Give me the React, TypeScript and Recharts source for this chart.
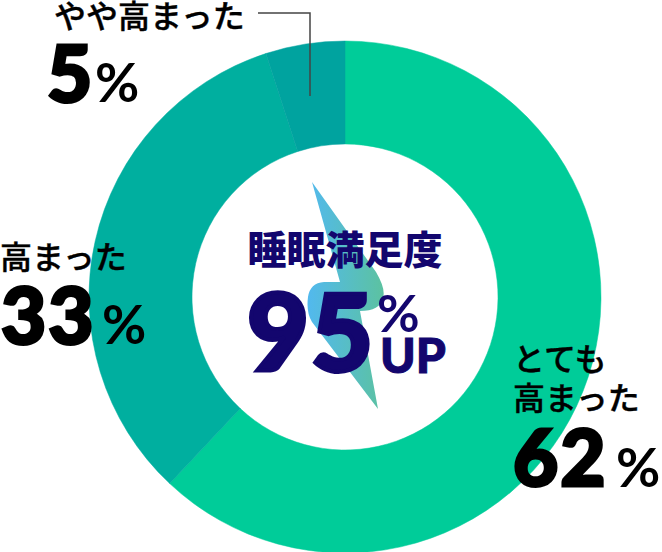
import React from 'react';
import { PieChart, Pie, Cell } from 'recharts';

const labels = ['とても高まった', '高まった', 'やや高まった'];
const values = [62, 33, 5];
const colors = ['#00cc99', '#00af9f', '#00a39f'];

const data = labels.map((name, i) => ({ name, value: values[i] }));

const navy = '#13066e';
const ink = '#000';
const font = '"Noto Sans CJK JP", "Noto Sans", sans-serif';
const numFont = 'Lato, "Noto Sans", sans-serif';

const Label = ({ x, y, children }: { x: number; y: number; children: React.ReactNode }) => (
  <text x={x} y={y} fontFamily={font} fontWeight={500} fontSize={32} fill={ink} stroke={ink} strokeWidth={0.4}>
    {children}
  </text>
);

const BigNum = ({ x, y, children }: { x: number; y: number; children: React.ReactNode }) => (
  <text x={x} y={y} fontFamily={numFont} fontWeight={900} fontSize={78} fill={ink} stroke={ink} strokeWidth={3} letterSpacing={2}>
    {children}
  </text>
);

const Pct = ({ x, y }: { x: number; y: number }) => (
  <text x={x} y={y} fontFamily={numFont} fontWeight={700} fontSize={54} fill={ink}>%</text>
);

const Overlay = () => (
  <svg width={662} height={552} style={{ position: 'absolute', left: 0, top: 0 }}>
    <defs>
      <linearGradient id="bolt" gradientUnits="userSpaceOnUse" x1="308" y1="0" x2="385" y2="0">
        <stop offset="0" stopColor="#52b9ee" />
        <stop offset="1" stopColor="#5cc29f" />
      </linearGradient>
    </defs>
    <path
      d="M312 182 L376 272 Q386 289 383 298 Q380 311 360 311 L378 409 L312 322 Q306 312 308 297 Q310 283 324 282 L340 282 Z"
      fill="url(#bolt)"
    />

    <text x={345} y={264} textAnchor="middle" fontFamily={font} fontWeight={900} fontSize={39} fill={navy}>睡眠満足度</text>
    <text x={247} y={371} fontFamily={numFont} fontWeight={900} fontSize={107} fill={navy} stroke={navy} strokeWidth={4} letterSpacing={2}>95</text>
    <text x={377} y={332} fontFamily={numFont} fontWeight={700} fontSize={52} fill={navy}>%</text>
    <text x={380} y={373} fontFamily={numFont} fontWeight={900} fontSize={48} fill={navy} stroke={navy} strokeWidth={1}>UP</text>

    <Label x={54} y={28}>やや高まった</Label>
    <BigNum x={47} y={102}>5</BigNum>
    <Pct x={95} y={102} />

    <Label x={0} y={269}>高まった</Label>
    <BigNum x={1} y={344}>33</BigNum>
    <Pct x={102} y={344} />

    <Label x={513} y={371}>とても</Label>
    <Label x={513} y={410}>高まった</Label>
    <BigNum x={513} y={486}>62</BigNum>
    <Pct x={616} y={487} />

    <polyline points="258,13 310,13 310,96" fill="none" stroke="#444" strokeWidth={1.5} />
  </svg>
);

export default function App() {
  return (
    <div style={{ position: 'absolute', left: 0, top: 0, width: 662, height: 552 }}>
      <PieChart width={662} height={552} margin={{ top: 0, right: 0, bottom: 0, left: 0 }}>
        <Pie
          data={data}
          dataKey="value"
          cx={345}
          cy={297}
          innerRadius={153}
          outerRadius={256}
          startAngle={90}
          endAngle={-270}
          isAnimationActive={false}
        >
          {data.map((d, i) => (
            <Cell key={d.name} fill={colors[i]} stroke={colors[i]} strokeWidth={0.5} />
          ))}
        </Pie>
      </PieChart>
      <Overlay />
    </div>
  );
}
